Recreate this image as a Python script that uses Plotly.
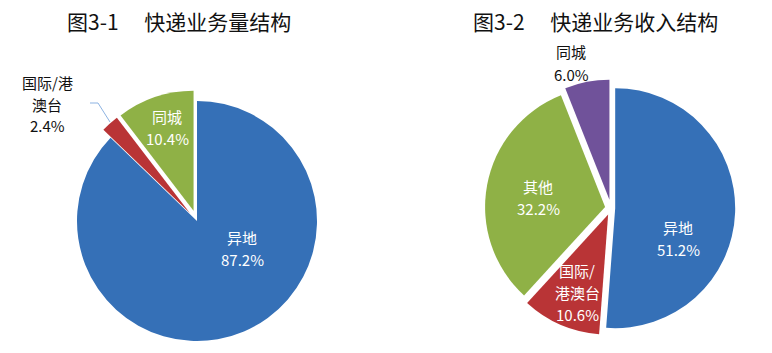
import plotly.graph_objects as go

W, H = 772, 353

# ---------------- data ----------------
titles = ["图3-1\u3000 快递业务量结构", "图3-2\u3000 快递业务收入结构"]

vol_labels = ["异地", "国际/港澳台", "同城"]
vol_values = [87.2, 2.4, 10.4]

rev_labels = ["异地", "国际/港澳台", "其他", "同城"]
rev_values = [51.2, 10.6, 32.2, 6.0]

# label text as displayed (line breaks)
vol_disp = [["异地"], ["国际/港", "澳台"], ["同城"]]
rev_disp = [["异地"], ["国际/", "港澳台"], ["其他"], ["同城"]]

# ---------------- styles ----------------
C_BLUE, C_RED, C_GREEN, C_PURPLE = "#3570B7", "#B93436", "#8FB146", "#70529A"
FONT = "Noto Sans CJK SC, Microsoft YaHei, sans-serif"
LINE = 22  # line spacing of slice labels, px


def px2paper(x, y):
    return x / W, 1 - y / H


def dom(cx, cy, half):
    x0, y1 = px2paper(cx - half, cy - half)
    x1, y0 = px2paper(cx + half, cy + half)
    return dict(x=[x0, x1], y=[max(y0, 0), y1])


fig = go.Figure()

fig.add_trace(go.Pie(
    labels=vol_labels, values=vol_values, sort=False, direction="clockwise",
    rotation=0, pull=[0.0, 0.09, 0.09],
    marker=dict(colors=[C_BLUE, C_RED, C_GREEN], line=dict(width=0)),
    textinfo="none", hoverinfo="label+value", showlegend=False,
    domain=dom(197, 221, 120 * 1.09),
))

fig.add_trace(go.Pie(
    labels=rev_labels, values=rev_values, sort=False, direction="clockwise",
    rotation=0, pull=[0.035, 0.06, 0.05, 0.07],
    marker=dict(colors=[C_BLUE, C_RED, C_GREEN, C_PURPLE], line=dict(width=0)),
    textinfo="none", hoverinfo="label+value", showlegend=False,
    domain=dom(611, 208, 120 * 1.07),
))

annotations = []
# titles
for t, (tx, ty) in zip(titles, [(179, 21), (595, 21)]):
    x, y = px2paper(tx, ty)
    annotations.append(dict(text=t, x=x, y=y, xref="paper", yref="paper",
                            xanchor="center", yanchor="middle", showarrow=False,
                            font=dict(family=FONT, size=21, color="#111111")))

# slice labels: (block centre in px, colour)
vol_pos = [((242, 248), "white"), ((47, 104), "#111111"), ((167, 128), "white")]
rev_pos = [((678, 238), "white"), ((577, 292), "white"), ((538, 197), "white"),
           ((571, 63), "#111111")]

for disp, val, ((lx, ly), col) in list(zip(vol_disp, vol_values, vol_pos)) + \
        list(zip(rev_disp, rev_values, rev_pos)):
    lines = disp + [f"{val:.1f}%"]
    top = ly - LINE * (len(lines) - 1) / 2
    for i, ln in enumerate(lines):
        x, y = px2paper(lx, top + i * LINE)
        annotations.append(dict(text=ln, x=x, y=y, borderpad=0,
                                xref="paper", yref="paper", xanchor="center",
                                yanchor="middle", showarrow=False,
                                font=dict(family=FONT, size=15, color=col)))

# leader line for the small slice label
pts = [px2paper(90, 103), px2paper(98, 103), px2paper(110, 122)]
path = "M {} {} L {} {} L {} {}".format(*[v for p in pts for v in p])

fig.update_layout(
    width=W, height=H, margin=dict(l=0, r=0, t=0, b=0),
    paper_bgcolor="white", plot_bgcolor="white",
    annotations=annotations,
    shapes=[dict(type="path", path=path, xref="paper", yref="paper",
                 line=dict(color="#8DB3E2", width=1))],
)

fig.write_html("out.html")
